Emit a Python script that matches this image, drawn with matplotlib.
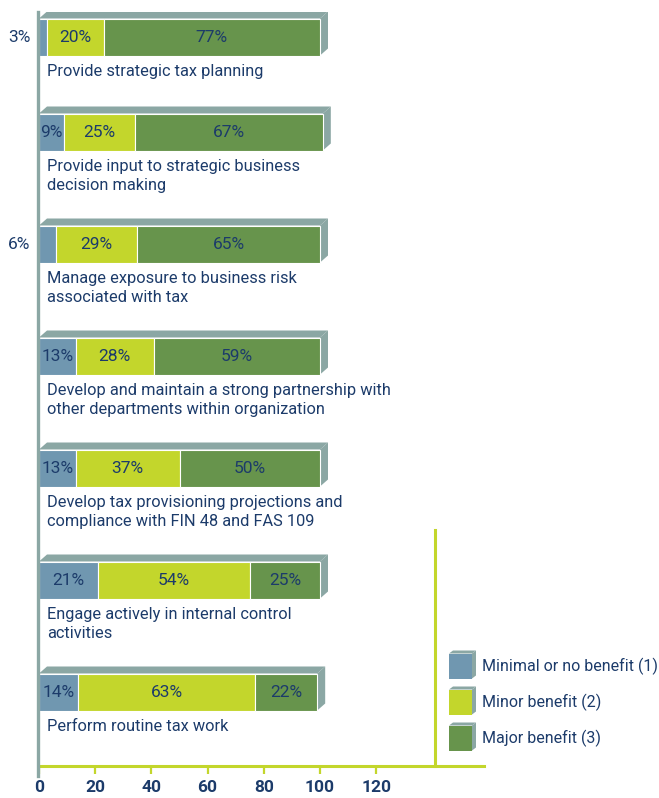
import matplotlib.pyplot as plt
from matplotlib.patches import Polygon, Rectangle

categories = [
    'Provide strategic tax planning',
    'Provide input to strategic business\ndecision making',
    'Manage exposure to business risk\nassociated with tax',
    'Develop and maintain a strong partnership with\nother departments within organization',
    'Develop tax provisioning projections and\ncompliance with FIN 48 and FAS 109',
    'Engage actively in internal control\nactivities',
    'Perform routine tax work',
]
minimal = [3, 9, 6, 13, 13, 21, 14]
minor = [20, 25, 29, 28, 37, 54, 63]
major = [77, 67, 65, 59, 50, 25, 22]
series_names = ['Minimal or no benefit (1)', 'Minor benefit (2)', 'Major benefit (3)']
xticks = [0, 20, 40, 60, 80, 100, 120]

BLUE = '#7097b0'
LIME = '#c3d62c'
GREEN = '#67944c'
SHADE = '#8ba7a4'
NAVY = '#1c3b6a'
plt.rcParams['font.family'] = ['Roboto', 'DejaVu Sans']

W, H = 659, 798
fig = plt.figure(figsize=(W / 100, H / 100), dpi=100)
x0_px, x1_px, ytop_px, ybot_px = 39, 484, 12, 766
ax = fig.add_axes([x0_px / W, 1 - ybot_px / H,
                   (x1_px - x0_px) / W, (ybot_px - ytop_px) / H])
px = 2.81  # pixels per percentage point
ax.set_xlim(0, (x1_px - x0_px) / px)
ax.set_ylim(ybot_px, ytop_px)  # y runs in pixel rows, top down

# row layout: each row's slot grows with the number of label lines
bar_h = 37
dx, dy = 8 / px, 7
centers = [37]
for cat in categories[:-1]:
    centers.append(centers[-1] + 78 + 17 * (cat.count('\n') + 1))

colors = [BLUE, LIME, GREEN]
for i, cat in enumerate(categories):
    c = centers[i]
    vals = [minimal[i], minor[i], major[i]]
    total = sum(vals)
    top, bot = c - bar_h / 2, c + bar_h / 2
    # 3d top and side faces
    ax.add_patch(Polygon([(0, top), (total, top), (total + dx, top - dy),
                          (dx, top - dy)], closed=True, fc=SHADE, ec='none'))
    ax.add_patch(Polygon([(total, top), (total + dx, top - dy),
                          (total + dx, bot - dy), (total, bot)],
                         closed=True, fc=SHADE, ec='none'))
    left = 0
    for v, col in zip(vals, colors):
        ax.barh(c, v, left=left, height=bar_h, color=col,
                edgecolor='white', linewidth=0.8)
        if v >= 8:
            ax.text(left + v / 2, c, f'{v}%', ha='center', va='center',
                    fontsize=12.5, color=NAVY)
        else:
            ax.text(-20 / px, c, f'{v}%', ha='center', va='center',
                    fontsize=12.5, color=NAVY, clip_on=False)
        left += v
    ax.text(8 / px, bot + 8, cat, ha='left', va='top', fontsize=11.8,
            color=NAVY, linespacing=1.35)

# axes decoration
for s in ['top', 'right', 'left']:
    ax.spines[s].set_visible(False)
ax.spines['bottom'].set_color(LIME)
ax.spines['bottom'].set_linewidth(2.2)
ax.plot([-0.4, -0.4], [ytop_px, ybot_px + 10], color=SHADE, lw=2.4,
        clip_on=False, zorder=5)
ax.plot([(435 - x0_px) / px] * 2, [530, ybot_px], color=LIME, lw=2.2,
        clip_on=False)
ax.set_yticks([])
ax.set_xticks(xticks)
ax.tick_params(axis='x', colors=LIME, length=6, width=1.6, pad=4)
for lab in ax.get_xticklabels():
    lab.set_color(NAVY)
    lab.set_fontsize(12.5)
    lab.set_fontweight('bold')

# legend with small 3d boxes
leg_x = (449 - x0_px) / px
leg_w = 23 / px
for name, col, yc in zip(series_names, colors, [666, 702, 738]):
    t, b = yc - 12.5, yc + 12.5
    ax.add_patch(Polygon([(leg_x, t), (leg_x + leg_w, t),
                          (leg_x + leg_w + 4 / px, t - 3), (leg_x + 4 / px, t - 3)],
                         closed=True, fc=SHADE, ec='none', clip_on=False))
    ax.add_patch(Polygon([(leg_x + leg_w, t), (leg_x + leg_w + 4 / px, t - 3),
                          (leg_x + leg_w + 4 / px, b - 3), (leg_x + leg_w, b)],
                         closed=True, fc=SHADE, ec='none', clip_on=False))
    ax.add_patch(Rectangle((leg_x, t), leg_w, b - t, fc=col, ec='none',
                           clip_on=False))
    ax.text((482 - x0_px) / px, yc, name, ha='left', va='center',
            fontsize=11.5, color=NAVY, clip_on=False)

fig.savefig('out.png', dpi=100)
